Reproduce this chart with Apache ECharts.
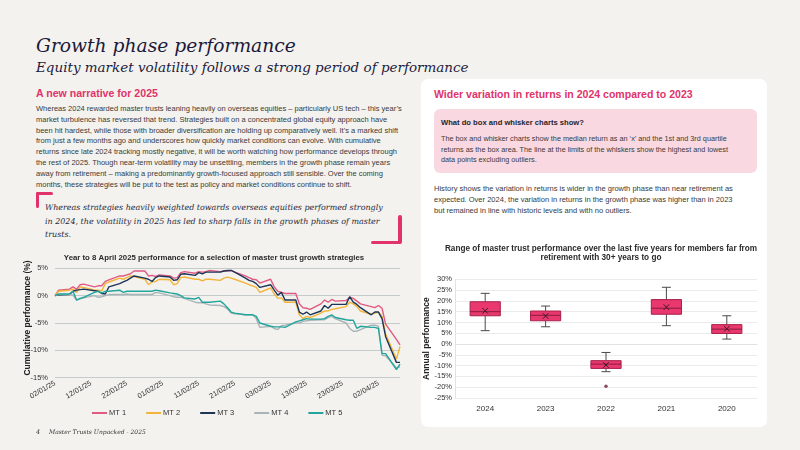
<!DOCTYPE html>
<html>
<head>
<meta charset="utf-8">
<script src="https://cdn.jsdelivr.net/npm/echarts@6/dist/echarts.min.js"></script>
<style>
  html, body { margin: 0; padding: 0; }
  body { width: 800px; height: 450px; background: #f4f2ee; position: relative; overflow: hidden;
         font-family: 'Liberation Sans', Arial, sans-serif; }
  .blk { position: absolute; white-space: nowrap; }
  .blk span { display: inline-block; }
  .serif { font-family: 'DejaVu Serif', Georgia, serif; font-style: italic; }
  .pink { color: #e0336b; font-weight: bold; }
  .card { position: absolute; left: 421px; top: 79px; width: 346px; height: 348px; background: #fff; border-radius: 7px; }
  .info { position: absolute; left: 434px; top: 109px; width: 323px; height: 64px; background: #f9d8e1; border-radius: 6px; }
  .br { position: absolute; background: #e0336b; border-radius: 2px; }
  #lineChart { position: absolute; left: 0; top: 240px; width: 428px; height: 190px; }
  #boxChart { position: absolute; left: 421px; top: 232px; width: 360px; height: 195px; }
</style>
</head>
<body>

<div class="blk serif" data-w="260" style="left:36px;top:32px;line-height:28px;font-size:22px;color:#1b1a3d;"><div><span>Growth phase performance</span></div></div>
<div class="blk serif" data-w="433" style="left:36px;top:56px;line-height:22px;font-size:16px;color:#1b1a3d;"><div><span>Equity market volatility follows a strong period of performance</span></div></div>

<div class="blk pink" data-w="122" style="left:36px;top:86px;line-height:14px;font-size:12px;"><div><span>A new narrative for 2025</span></div></div>

<div class="blk" data-w="366" style="left:36px;top:104px;line-height:10.8px;font-size:7.2px;color:#3a3a3a;">
  <div><span>Whereas 2024 rewarded master trusts leaning heavily on overseas equities – particularly US tech – this year’s</span></div>
  <div><span>market turbulence has reversed that trend. Strategies built on a concentrated global equity approach have</span></div>
  <div><span>been hit hardest, while those with broader diversification are holding up comparatively well. It’s a marked shift</span></div>
  <div><span>from just a few months ago and underscores how quickly market conditions can evolve. With cumulative</span></div>
  <div><span>returns since late 2024 tracking mostly negative, it will be worth watching how performance develops through</span></div>
  <div><span>the rest of 2025. Though near-term volatility may be unsettling, members in the growth phase remain years</span></div>
  <div><span>away from retirement – making a predominantly growth-focused approach still sensible. Over the coming</span></div>
  <div><span>months, these strategies will be put to the test as policy and market conditions continue to shift.</span></div>
</div>

<div class="br" style="left:36px;top:192px;width:17px;height:3px;"></div>
<div class="br" style="left:36px;top:192px;width:3px;height:16px;"></div>
<div class="br" style="left:398px;top:215px;width:3.5px;height:29px;"></div>
<div class="br" style="left:371px;top:240.5px;width:30px;height:3.5px;"></div>

<div class="blk serif" data-w="338" style="left:45px;top:201px;line-height:13.5px;font-size:9.5px;color:#2a2a40;">
  <div><span>Whereas strategies heavily weighted towards overseas equities performed strongly</span></div>
  <div><span>in 2024, the volatility in 2025 has led to sharp falls in the growth phases of master</span></div>
  <div><span>trusts.</span></div>
</div>

<div class="card"></div>
<div class="blk pink" data-w="259" style="left:434px;top:87px;line-height:14px;font-size:11.5px;"><div><span>Wider variation in returns in 2024 compared to 2023</span></div></div>
<div class="info"></div>
<div class="blk" data-w="143" style="left:441px;top:118px;line-height:10px;font-size:7.5px;color:#1f1f2e;font-weight:bold;"><div><span>What do box and whisker charts show?</span></div></div>
<div class="blk" data-w="286" style="left:441px;top:134px;line-height:10.7px;font-size:7.2px;color:#3a3a3a;">
  <div><span>The box and whisker charts show the median return as an ‘x’ and the 1st and 3rd quartile</span></div>
  <div><span>returns as the box area. The line at the limits of the whiskers show the highest and lowest</span></div>
  <div><span>data points excluding outliers.</span></div>
</div>
<div class="blk" data-w="299" style="left:434px;top:183px;line-height:11.2px;font-size:7.2px;color:#3a3a3a;">
  <div><span>History shows the variation in returns is wider in the growth phase than near retirement as</span></div>
  <div><span>expected. Over 2024, the variation in returns in the growth phase was higher than in 2023</span></div>
  <div><span>but remained in line with historic levels and with no outliers.</span></div>
</div>

<div id="lineChart"></div>
<div id="boxChart"></div>

<div class="blk serif" style="left:36px;top:427px;line-height:10px;font-size:6.5px;color:#333;"><div><span>4</span></div></div>
<div class="blk serif" data-w="97" style="left:49px;top:427px;line-height:10px;font-size:6.5px;color:#333;"><div><span>Master Trusts Unpacked - 2025</span></div></div>

<script>
// fit each text block so its first line has the measured width
document.querySelectorAll('[data-w]').forEach(function (el) {
  var fs = parseFloat(getComputedStyle(el).fontSize)
  var w = el.querySelector('span').getBoundingClientRect().width
  el.style.fontSize = (fs * parseFloat(el.dataset.w) / w) + 'px'
})

// ---------- line chart data ----------
var tradingDays = [
  '02/01/25', '03/01/25', '06/01/25', '07/01/25', '08/01/25', '09/01/25', '10/01/25', '13/01/25', '14/01/25', '15/01/25', '16/01/25',
  '17/01/25', '20/01/25', '21/01/25', '22/01/25', '23/01/25', '24/01/25', '27/01/25', '28/01/25', '29/01/25', '30/01/25', '31/01/25',
  '03/02/25', '04/02/25', '05/02/25', '06/02/25', '07/02/25', '10/02/25', '11/02/25', '12/02/25', '13/02/25', '14/02/25',
  '17/02/25', '18/02/25', '19/02/25', '20/02/25', '21/02/25', '24/02/25', '25/02/25', '26/02/25', '27/02/25', '28/02/25',
  '03/03/25', '04/03/25', '05/03/25', '06/03/25', '07/03/25', '10/03/25', '11/03/25', '12/03/25', '13/03/25', '14/03/25',
  '17/03/25', '18/03/25', '19/03/25', '20/03/25', '21/03/25', '24/03/25', '25/03/25', '26/03/25', '27/03/25', '28/03/25', '31/03/25',
  '01/04/25', '02/04/25', '03/04/25', '04/04/25', '07/04/25', '08/04/25'
]
var mt1 = [
  0, 1.0, 1.2, 1.6, 1.2, 2.0, 2.1, 1.6, 1.8, 1.8, 2.6, 2.9, 3.6, 3.6, 3.8, 4.0, 4.5, 4.5, 3.6, 3.7, 3.5, 3.8,
  3.6, 3.2, 3.3, 4.2, 4.4, 4.1, 4.4, 4.3, 4.4, 4.6, 4.4, 4.5, 4.5, 4.6, 4.3, 3.6, 3.3, 3.0, 2.9, 2.3,
  3.0, 1.6, 0.8, 0.6, 0.4, 0.4, -1.5, -2.2, -2.3, -2.5, -1.5, -0.8, -1.2, -0.7, -1.0, -0.9, -0.3, -0.5, -1.0, -1.5, -2.0,
  -2.2, -1.8, -2.3, -5.2, -8.0, -9.0
]
var mt2 = [
  0, 0.8, 1.0, 1.2, 0.6, 1.6, 1.5, 1.0, 1.0, 0.9, 2.2, 2.5, 3.2, 3.0, 3.3, 3.6, 3.5, 3.0, 2.0, 2.5, 2.6, 3.0,
  2.9, 2.0, 2.2, 3.3, 3.4, 3.0, 3.0, 2.7, 3.0, 3.0, 2.8, 3.2, 3.4, 3.2, 3.0, 2.3, 2.0, 1.8, 1.5, 0.6,
  1.4, 0.3, -0.5, -0.4, -1.2, -1.2, -3.5, -4.2, -3.8, -4.0, -3.2, -2.8, -2.8, -2.5, -2.4, -2.0, -1.2, -1.5, -2.0, -2.8, -3.4,
  -3.2, -3.0, -3.8, -7.0, -11.6, -9.3
]
var mt3 = [
  0, 0.1, 0.2, 0.8, 1.0, 1.1, 1.2, 0.9, 0.8, 0.4, 0.3, 1.6, 2.2, 2.5, 2.8, 3.2, 3.6, 3.2, 3.0, 2.6, 3.3, 3.6,
  3.4, 2.8, 2.9, 3.9, 4.0, 3.7, 4.2, 4.0, 4.3, 4.3, 4.3, 4.5, 4.6, 4.6, 4.3, 3.2, 2.8, 2.6, 2.2, 1.5,
  2.0, 1.0, 0.1, 0.6, -0.8, -0.8, -3.0, -3.4, -3.0, -3.5, -2.8, -1.8, -2.3, -1.6, -1.6, -1.6, -0.2, -1.2, -1.6, -2.2, -3.5,
  -3.0, -3.0, -4.2, -7.5, -12.2, -12.2
]
var mt4 = [
  0, 0.2, 0.2, 0.1, -0.8, -0.6, -0.4, 0, -0.3, -0.2, 0, 0.2, 0.2, 0.2, 0.3, 0.2, 0.2, 0.2, 0.2, 0.2, 0.6, 0.5,
  0.0, -0.2, -0.3, -0.3, -0.5, -1.2, -1.3, -1.3, -1.5, -1.7, -1.8, -2.0, -2.4, -3.2, -3.3, -3.5, -3.5, -3.5, -4.2, -5.8,
  -5.6, -6.0, -6.2, -5.5, -5.4, -5.0, -5.0, -4.7, -4.6, -4.5, -4.4, -4.4, -4.0, -3.8, -4.2, -5.0, -6.0, -6.5, -6.5, -6.2, -5.4,
  -5.4, -5.6, -10.9, -11.0, -13.2, -13.0
]
var mt5 = [
  0, 0.3, 0.3, 0.8, -0.8, -0.5, -0.3, 0.6, 0.8, 0.5, 0.8, 0.8, 1.0, 0.6, 0.8, 0.8, 0.8, 0.8, 0.8, 0.8, 1.0, 0.9,
  0.5, 0.4, 0.3, 0.0, -0.4, -0.6, -0.3, -1.2, -1.2, -1.2, -1.0, -1.5, -2.2, -3.0, -3.2, -3.5, -3.5, -3.5, -3.8, -5.0,
  -5.6, -5.7, -5.7, -5.7, -5.8, -4.8, -4.6, -4.4, -4.2, -4.3, -4.3, -4.2, -3.8, -3.5, -4.0, -4.4, -4.5, -4.5, -6.0, -5.6, -5.8,
  -5.8, -6.0, -10.6, -10.6, -13.5, -12.5
]
var lineNames = ['MT 1', 'MT 2', 'MT 3', 'MT 4', 'MT 5']
var lineColors = ['#e05a82', '#f2b53a', '#1d3557', '#a9b4b8', '#22a59c']

// ---------- box chart data ----------
var years = ['2024', '2023', '2022', '2021', '2020']
var boxMin = [6.2, 8.0, -12.8, 8.5, 2.3]
var boxQ1 = [13.1, 10.8, -11.3, 13.8, 4.9]
var boxMedian = [15.0, 13.3, -9.3, 16.6, 6.9]
var boxQ3 = [19.6, 15.3, -7.7, 20.6, 9.0]
var boxMax = [23.5, 17.6, -3.9, 26.3, 13.1]
var boxMean = [15.4, 13.0, -9.7, 17.1, 7.1]
var outliers = [['2022', -19.5]]

// calendar days for the date axis (labels every 10 days)
var calendarDays = []
for (var t = Date.UTC(2025, 0, 2); t <= Date.UTC(2025, 3, 8); t += 86400000) {
  var d = new Date(t)
  var dd = ('0' + d.getUTCDate()).slice(-2)
  var mm = ('0' + (d.getUTCMonth() + 1)).slice(-2)
  calendarDays.push(dd + '/' + mm + '/25')
}

var lineSeries = [mt1, mt2, mt3, mt4, mt5].map(function (vals, i) {
  return {
    name: lineNames[i],
    type: 'line',
    symbol: 'none',
    color: lineColors[i],
    lineStyle: { width: 1.4 },
    data: vals.map(function (v, k) { return [calendarDays.indexOf(tradingDays[k]), v] })
  }
})

var lineChart = echarts.init(document.getElementById('lineChart'))
lineChart.setOption({
  animation: false,
  textStyle: { fontFamily: 'Liberation Sans' },
  title: {
    text: 'Year to 8 April 2025 performance for a selection of master trust growth strategies',
    left: 'center',
    top: 9,
    textStyle: { fontSize: 7.8, fontWeight: 'bold', color: '#2a2a2a' }
  },
  legend: {
    data: lineNames,
    left: 92,
    top: 169,
    padding: 0,
    itemWidth: 15,
    itemHeight: 2,
    itemGap: 20,
    icon: 'rect',
    textStyle: { fontSize: 7.5, color: '#333', padding: [0, 0, 0, -3] }
  },
  grid: { left: 55, right: 28, top: 28.3, bottom: 52.3, outerBoundsMode: 'none' },
  xAxis: {
    type: 'category',
    data: calendarDays,
    boundaryGap: false,
    axisLine: { show: false },
    axisTick: { show: false },
    axisLabel: { interval: 9, rotate: 30, fontSize: 7.3, color: '#333', margin: 5 }
  },
  yAxis: {
    type: 'value',
    min: -15,
    max: 5,
    interval: 5,
    name: 'Cumulative performance (%)',
    nameLocation: 'middle',
    nameGap: 23,
    nameMoveOverlap: false,
    nameTextStyle: { fontSize: 8.5, fontWeight: 'bold', color: '#222', padding: [0, 0, 0, 10] },
    axisLabel: { formatter: '{value}%', fontSize: 7.5, color: '#333', margin: 7 },
    splitLine: { lineStyle: { color: '#c3cbcb', width: 1.2 } }
  },
  series: lineSeries
})

var boxRows = years.map(function (y, i) {
  return [i, boxMin[i], boxQ1[i], boxMedian[i], boxQ3[i], boxMax[i], boxMean[i]]
})

var boxChart = echarts.init(document.getElementById('boxChart'))
boxChart.setOption({
  animation: false,
  textStyle: { fontFamily: 'Liberation Sans' },
  title: {
    text: 'Range of master trust performance over the last five years for members far from\nretirement with 30+ years to go',
    left: 'center',
    top: 6.5,
    textStyle: { fontSize: 8.2, fontWeight: 'bold', color: '#2a2a2a', lineHeight: 9.5, align: 'center' }
  },
  grid: { left: 34, right: 24, top: 47.3, bottom: 29, outerBoundsMode: 'none' },
  xAxis: {
    type: 'category',
    data: years,
    axisLine: { lineStyle: { color: '#e2e2e2' } },
    axisTick: { show: false },
    axisLabel: { fontSize: 8, color: '#333', margin: 7 }
  },
  yAxis: {
    type: 'value',
    min: -25,
    max: 30,
    interval: 5,
    name: 'Annual performance',
    nameLocation: 'middle',
    nameGap: 24,
    nameMoveOverlap: false,
    nameTextStyle: { fontSize: 8.5, fontWeight: 'bold', color: '#222' },
    axisLine: { show: true, lineStyle: { color: '#e2e2e2' } },
    axisLabel: { formatter: '{value}%', fontSize: 7.5, color: '#333', margin: 3 },
    splitLine: { lineStyle: { color: '#ebebeb' } }
  },
  series: [
    {
      type: 'custom',
      data: boxRows,
      encode: { x: 0, y: [1, 2, 3, 4, 5] },
      renderItem: function (params, api) {
        var i = api.value(0)
        var pMin = api.coord([i, api.value(1)])
        var pQ1 = api.coord([i, api.value(2)])
        var pMed = api.coord([i, api.value(3)])
        var pQ3 = api.coord([i, api.value(4)])
        var pMax = api.coord([i, api.value(5)])
        var pMean = api.coord([i, api.value(6)])
        var half = api.size([1, 0])[0] * 0.25
        var cap = 4.5
        var x = pMed[0]
        var whisk = { stroke: '#4a4a4a', lineWidth: 1 }
        var m = 2.8
        return {
          type: 'group',
          children: [
            { type: 'line', shape: { x1: x, y1: pMax[1], x2: x, y2: pQ3[1] }, style: whisk },
            { type: 'line', shape: { x1: x - cap, y1: pMax[1], x2: x + cap, y2: pMax[1] }, style: whisk },
            { type: 'line', shape: { x1: x, y1: pQ1[1], x2: x, y2: pMin[1] }, style: whisk },
            { type: 'line', shape: { x1: x - cap, y1: pMin[1], x2: x + cap, y2: pMin[1] }, style: whisk },
            { type: 'rect', shape: { x: x - half, y: pQ3[1], width: half * 2, height: pQ1[1] - pQ3[1] },
              style: { fill: '#e8386d', stroke: '#a8224c', lineWidth: 1 } },
            { type: 'line', shape: { x1: x - half, y1: pMed[1], x2: x + half, y2: pMed[1] },
              style: { stroke: '#8a1c40', lineWidth: 1 } },
            { type: 'line', shape: { x1: x - m, y1: pMean[1] - m, x2: x + m, y2: pMean[1] + m },
              style: { stroke: '#3a1a28', lineWidth: 1 } },
            { type: 'line', shape: { x1: x - m, y1: pMean[1] + m, x2: x + m, y2: pMean[1] - m },
              style: { stroke: '#3a1a28', lineWidth: 1 } }
          ]
        }
      }
    },
    {
      type: 'scatter',
      data: outliers,
      symbolSize: 3.5,
      itemStyle: { color: '#6b2035' }
    }
  ]
})
</script>
</body>
</html>
